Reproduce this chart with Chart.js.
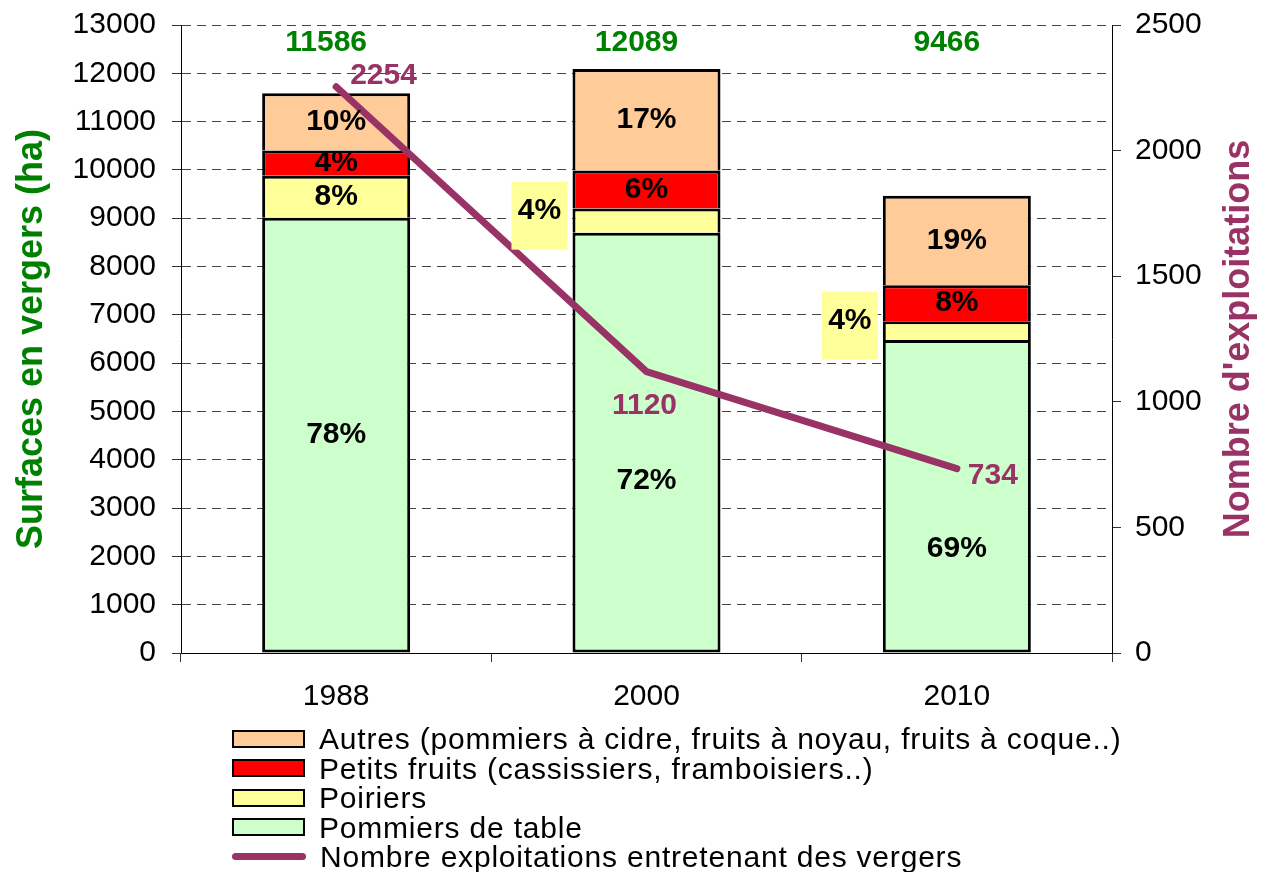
<!DOCTYPE html>
<html lang="fr">
<head>
<meta charset="utf-8">
<title>Vergers</title>
<script src="https://cdn.jsdelivr.net/npm/chart.js@4.4.1/dist/chart.umd.min.js"></script>
<style>
  html, body { margin: 0; padding: 0; background: #fff; }
  #wrap { position: relative; width: 1261px; height: 872px; overflow: hidden; }
  #legend { position: absolute; left: 232px; top: 724px; font: 30px 'Liberation Sans', Arial, sans-serif; letter-spacing: 0.8px; color: #000; }
  .row { display: flex; align-items: center; height: 29.5px; line-height: 29.5px; white-space: nowrap; }
  .box { width: 69px; height: 14px; border: 2.5px solid #000; margin-right: 14px; flex: none; }
  .ln { width: 74px; height: 7px; border-radius: 4px; margin-right: 14px; flex: none; }
</style>
</head>
<body>
<div id="wrap">
  <canvas id="chart" width="1261" height="872"></canvas>
  <div id="legend"></div>
</div>
<script>
const years = ['1988', '2000', '2010'];

// surfaces (ha)
const pommiersTable = [9010, 8700, 6480];
const poiriers = [870, 500, 390];
const petitsFruits = [520, 790, 745];
const autres = [1186, 2099, 1851];
const totals = [11586, 12089, 9466];

// parts en %
const pctPommiers = [78, 72, 69];
const pctPoiriers = [8, 4, 4];
const pctPetits = [4, 6, 8];
const pctAutres = [10, 17, 19];

// nombre d'exploitations
const exploitations = [2254, 1120, 734];

const FONT = "'Liberation Sans', Arial, sans-serif";
const GREEN = '#008000';
const PURPLE = '#993366';

const segmentPct = [pctPommiers, pctPoiriers, pctPetits, pctAutres];

const labelsPlugin = {
  id: 'labels',
  afterDatasetsDraw(chart) {
    const ctx = chart.ctx;
    const area = chart.chartArea;
    ctx.save();
    ctx.textAlign = 'center';
    ctx.textBaseline = 'middle';
    ctx.font = 'bold 30px ' + FONT;

    // percentages inside the bars
    segmentPct.forEach((pcts, di) => {
      const meta = chart.getDatasetMeta(di);
      meta.data.forEach((bar, i) => {
        const cy = (bar.y + bar.base) / 2;
        const txt = pcts[i] + '%';
        if (di === 1 && i > 0) {
          // small poiriers share: put it in a yellow box left of the bar
          const right = bar.x - bar.width / 2 - 5;
          const bw = 56, bh = 68;
          const by = cy - 5;
          ctx.fillStyle = '#FFFF99';
          ctx.fillRect(right - bw, by - bh / 2, bw, bh);
          ctx.fillStyle = '#000';
          ctx.fillText(txt, right - bw / 2, by - 5);
          return;
        }
        let dy = 0;
        if (di === 0 && i === 1) dy = 38;
        if (di === 0 && i === 2) dy = 53;
        ctx.fillStyle = '#000';
        ctx.fillText(txt, bar.x, cy + dy);
      });
    });

    // totals in green, at the top of the plot
    const barMeta = chart.getDatasetMeta(0);
    ctx.fillStyle = GREEN;
    barMeta.data.forEach((bar, i) => {
      ctx.fillText(String(totals[i]), bar.x - 10, area.top + 17.5);
    });

    // line values
    const lineMeta = chart.getDatasetMeta(4);
    const shifts = [[14, -11, 'left'], [-2, 34, 'center'], [11, 7, 'left']];
    ctx.fillStyle = PURPLE;
    lineMeta.data.forEach((pt, i) => {
      const s = shifts[i];
      ctx.textAlign = s[2];
      ctx.fillText(String(exploitations[i]), pt.x + s[0], pt.y + s[1]);
    });
    ctx.restore();
  },
  afterDraw(chart) {
    const ctx = chart.ctx;
    const area = chart.chartArea;
    const cy = (area.top + area.bottom) / 2;
    ctx.save();
    ctx.font = 'bold 36px ' + FONT;
    ctx.textAlign = 'center';
    ctx.textBaseline = 'middle';

    ctx.save();
    ctx.translate(32, cy);
    ctx.rotate(-Math.PI / 2);
    ctx.fillStyle = GREEN;
    ctx.fillText('Surfaces en vergers (ha)', 0, 0);
    ctx.restore();

    ctx.save();
    ctx.translate(1239, cy);
    ctx.rotate(-Math.PI / 2);
    ctx.fillStyle = PURPLE;
    ctx.fillText("Nombre d'exploitations", 0, 0);
    ctx.restore();

    ctx.restore();
  }
};

const barDefaults = {
  borderColor: '#000',
  borderWidth: 3,
  borderSkipped: 'start',
  barPercentage: 0.477,
  categoryPercentage: 1,
  order: 1
};

const tickFont = { family: FONT, size: 30 };

// fixed widths and no label overflow padding, so the plot box is 181..1112 x 25..653
const fitY = w => s => { s.width = w; s.paddingTop = 0; s.paddingBottom = 0; };

const chart = new Chart(document.getElementById('chart'), {
  type: 'bar',
  data: {
    labels: years,
    datasets: [
      { ...barDefaults, borderSkipped: false, label: 'Pommiers de table', data: pommiersTable, backgroundColor: '#CCFFCC' },
      { ...barDefaults, label: 'Poiriers', data: poiriers, backgroundColor: '#FFFF99' },
      { ...barDefaults, label: 'Petits fruits (cassissiers, framboisiers..)', data: petitsFruits, backgroundColor: '#FF0000' },
      { ...barDefaults, label: 'Autres (pommiers à cidre, fruits à noyau, fruits à coque..)', data: autres, backgroundColor: '#FFCC99' },
      {
        type: 'line',
        label: 'Nombre exploitations entretenant des vergers',
        data: exploitations,
        yAxisID: 'y1',
        borderColor: PURPLE,
        backgroundColor: PURPLE,
        borderWidth: 7,
        borderCapStyle: 'round',
        pointRadius: 0,
        tension: 0,
        order: 0
      }
    ]
  },
  options: {
    responsive: false,
    animation: false,
    layout: { padding: { top: 25, left: 0, right: 0, bottom: 0 } },
    plugins: {
      legend: { display: false },
      tooltip: { enabled: false }
    },
    scales: {
      x: {
        stacked: true,
        grid: { drawOnChartArea: false, tickLength: 9, tickColor: '#333' },
        border: { color: '#000', width: 1 },
        ticks: { font: tickFont, color: '#000', padding: 17 },
        afterFit: s => { s.height = 219; s.paddingLeft = 0; s.paddingRight = 0; }
      },
      y: {
        stacked: true,
        min: 0,
        max: 13000,
        grid: { color: '#444', tickLength: 9, tickColor: '#333' },
        border: { color: '#000', width: 1, dash: [9, 6] },
        ticks: { stepSize: 1000, font: tickFont, color: '#000', padding: 16, callback: v => String(v) },
        afterFit: fitY(181)
      },
      y1: {
        position: 'right',
        min: 0,
        max: 2500,
        grid: { drawOnChartArea: false, tickLength: 9, tickColor: '#333' },
        border: { color: '#000', width: 1 },
        ticks: { stepSize: 500, font: tickFont, color: '#000', padding: 14, callback: v => String(v) },
        afterFit: fitY(149)
      }
    }
  },
  plugins: [labelsPlugin]
});

// legend: bars top to bottom, then the line
const legend = document.getElementById('legend');
const ds = chart.data.datasets;
[3, 2, 1, 0, 4].forEach(i => {
  const d = ds[i];
  const row = document.createElement('div');
  row.className = 'row';
  const sw = document.createElement('span');
  if (d.type === 'line') {
    sw.className = 'ln';
    sw.style.background = d.borderColor;
  } else {
    sw.className = 'box';
    sw.style.background = d.backgroundColor;
  }
  const txt = document.createElement('span');
  txt.textContent = d.label;
  row.appendChild(sw);
  row.appendChild(txt);
  legend.appendChild(row);
});
</script>
</body>
</html>
